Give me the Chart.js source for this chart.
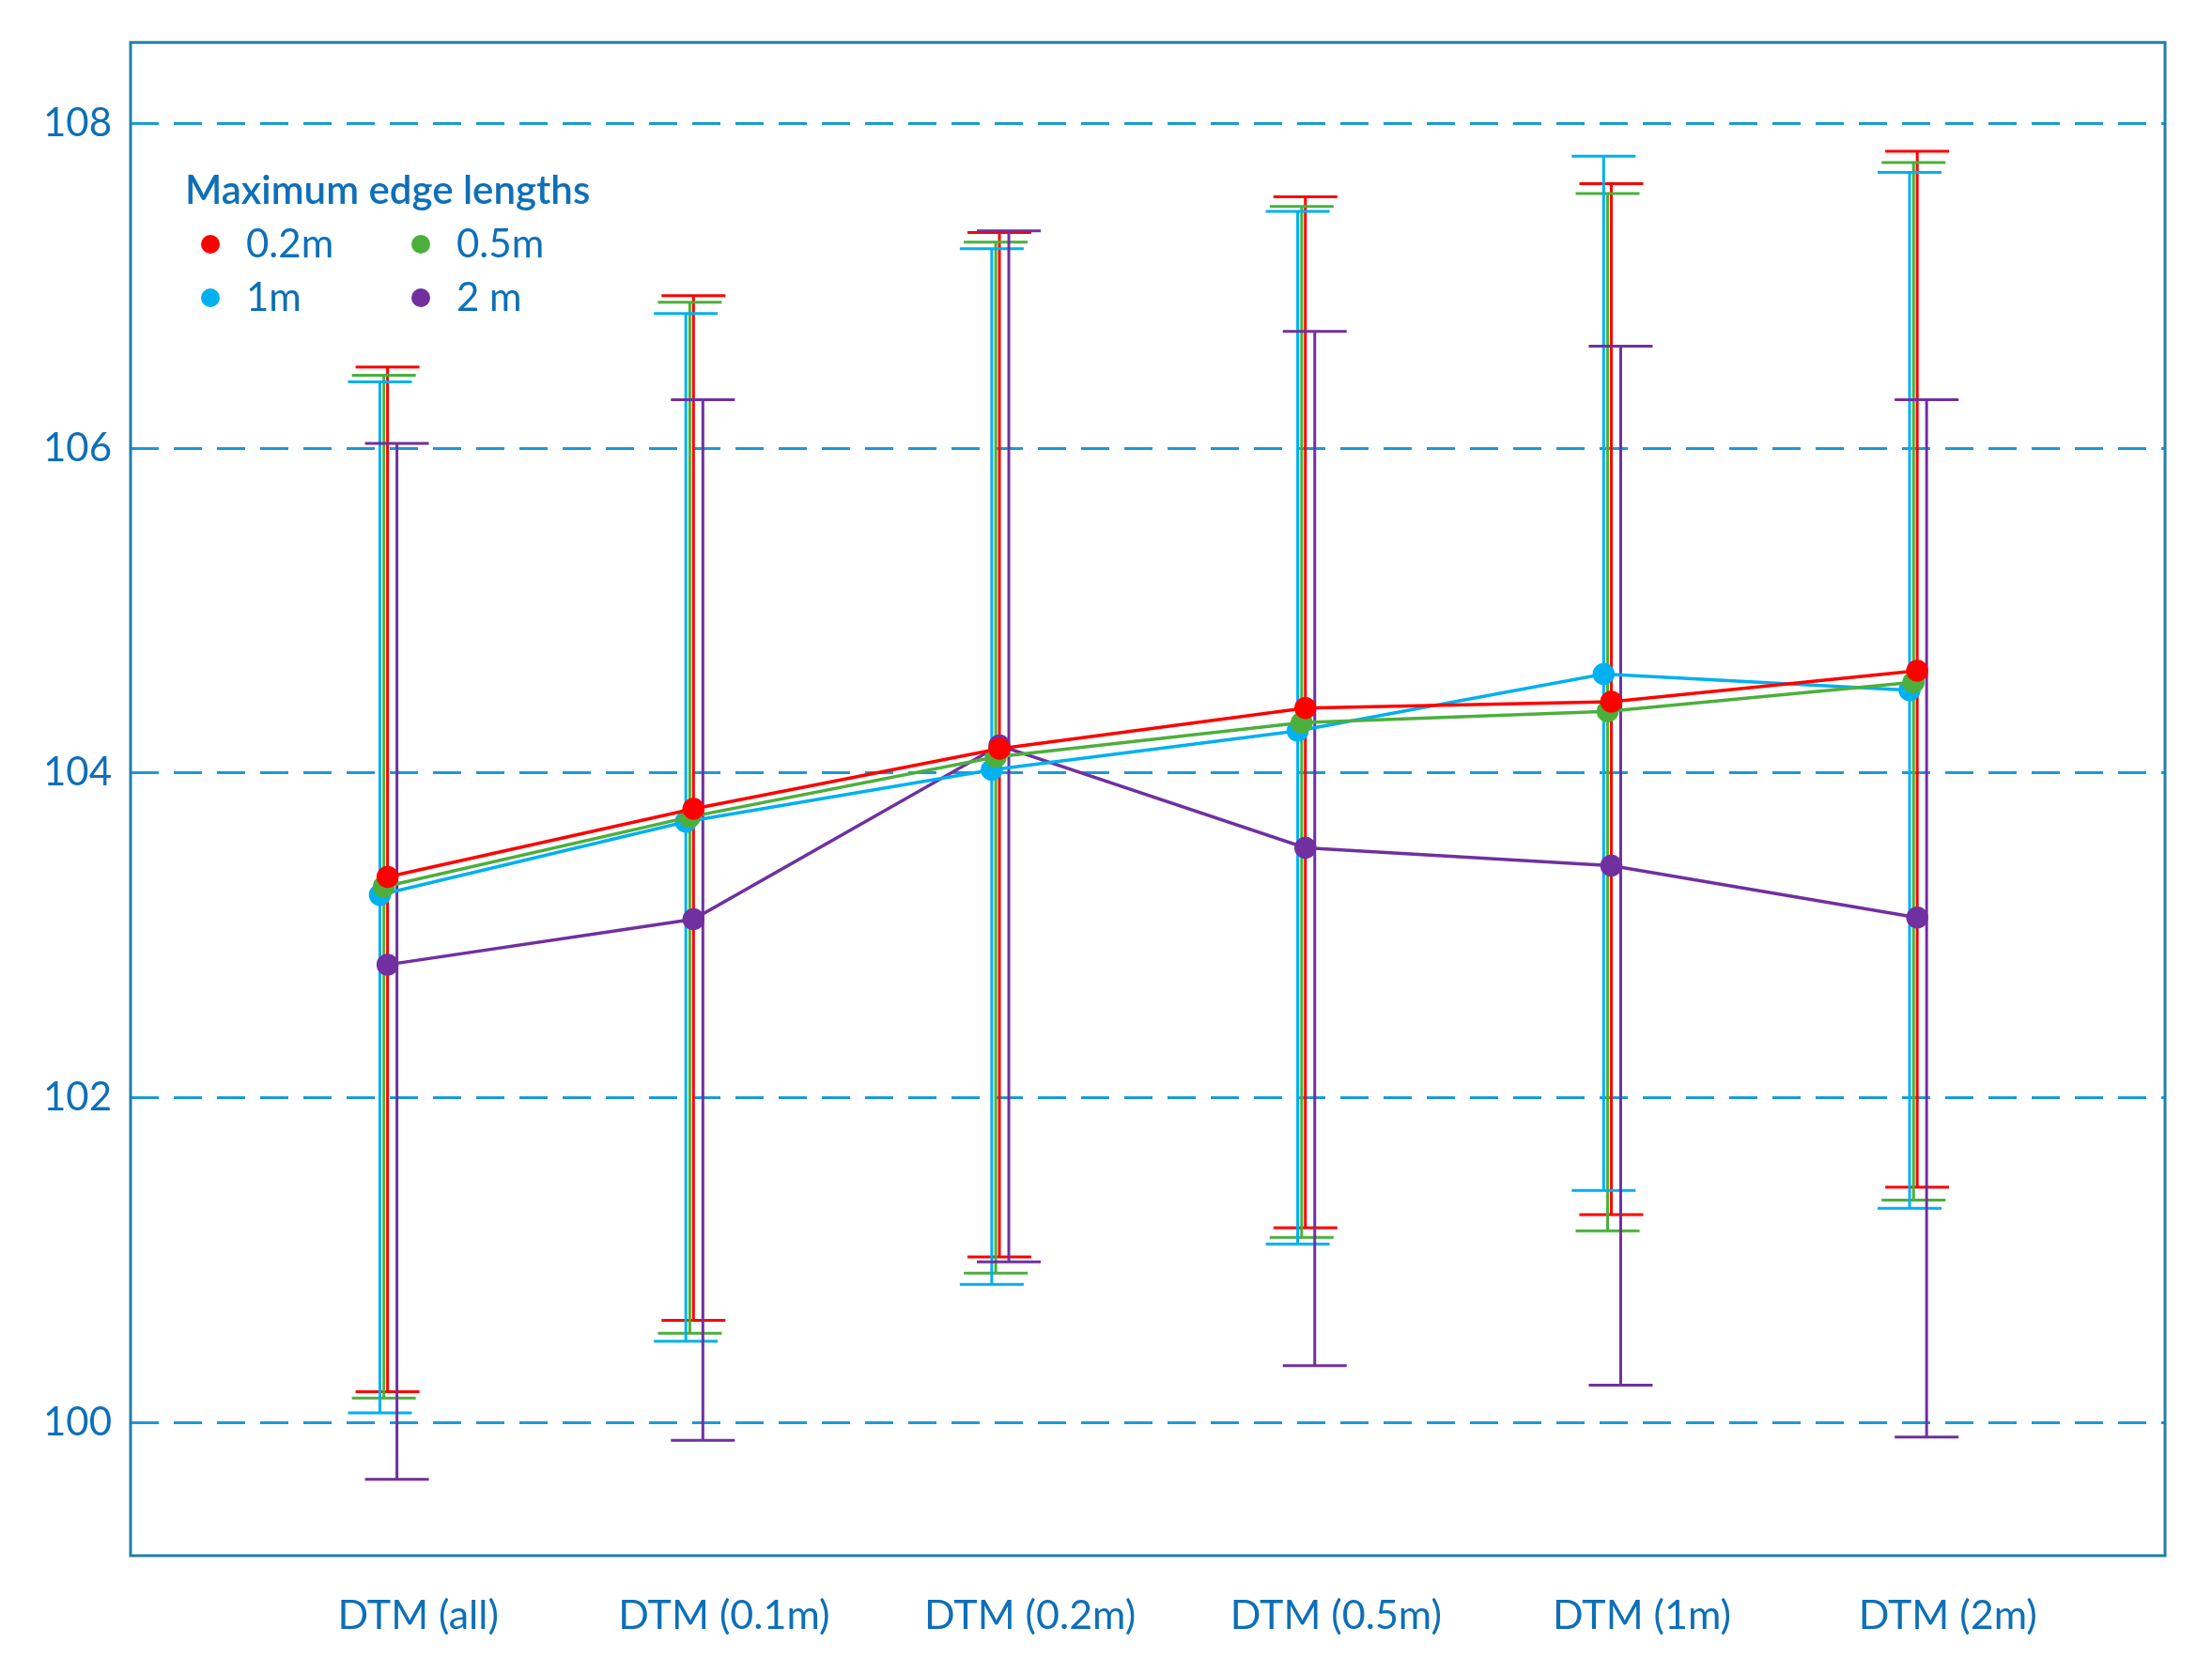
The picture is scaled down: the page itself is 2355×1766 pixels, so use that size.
<!DOCTYPE html>
<html>
<head>
<meta charset="utf-8">
<script src="https://cdn.jsdelivr.net/npm/chart.js@4"></script>
<style>
  html, body { margin: 0; padding: 0; background: #fff; }
  #wrap { width: 2355px; height: 1766px; }
</style>
</head>
<body>
<div id="wrap"><canvas id="c"></canvas></div>
<script>
// categories and values
const categories = ['DTM (all)', 'DTM (0.1m)', 'DTM (0.2m)', 'DTM (0.5m)', 'DTM (1m)', 'DTM (2m)'];
const seriesNames = ['0.2m', '0.5m', '1m', '2 m'];
const seriesColors = ['#ff0000', '#4caf3c', '#00b0f0', '#7030a0'];
const seriesShift = [0, -0.012, -0.025, 0];

const mean02 = [103.36, 103.78, 104.15, 104.40, 104.44, 104.63];
const mean05 = [103.30, 103.73, 104.10, 104.31, 104.38, 104.56];
const mean1 = [103.25, 103.70, 104.02, 104.26, 104.61, 104.51];
const mean2 = [102.82, 103.10, 104.17, 103.54, 103.43, 103.11];

const high02 = [106.50, 106.94, 107.33, 107.55, 107.63, 107.83];
const low02 = [100.19, 100.63, 101.02, 101.20, 101.28, 101.45];
const high05 = [106.45, 106.90, 107.27, 107.49, 107.57, 107.76];
const low05 = [100.15, 100.55, 100.92, 101.14, 101.18, 101.37];
const high1 = [106.41, 106.83, 107.23, 107.46, 107.80, 107.70];
const low1 = [100.06, 100.50, 100.85, 101.10, 101.43, 101.32];
const high2 = [106.03, 106.30, 107.34, 106.72, 106.63, 106.30];
const low2 = [99.65, 99.89, 100.99, 100.35, 100.23, 99.91];

const yTicks = [100, 102, 104, 106, 108];

const means = [mean02, mean05, mean1, mean2];
const highs = [high02, high05, high1, high2];
const lows = [low02, low05, low1, low2];

const axisBlue = '#0e6fb8';
const fontFamily = 'Lato, "Open Sans", sans-serif';

const datasets = seriesNames.map((name, s) => ({
  label: name,
  data: means[s].map((v, i) => ({ x: i + seriesShift[s], y: v, hi: highs[s][i], lo: lows[s][i] })),
  borderColor: seriesColors[s],
  backgroundColor: seriesColors[s],
  borderWidth: 3.5,
  pointRadius: 10,
  pointHoverRadius: 10,
  tension: 0
}));

// error bars drawn through the chart's scales
const errorBars = {
  id: 'errorBars',
  beforeDatasetsDraw(chart) {
    const { ctx, scales: { x, y } } = chart;
    ctx.save();
    ctx.lineWidth = 3;
    chart.data.datasets.forEach((ds) => {
      ctx.strokeStyle = ds.borderColor;
      ds.data.forEach(p => {
        const px = x.getPixelForValue(p.x) + (ds.label === '2 m' ? 10 : 0);
        const top = y.getPixelForValue(p.hi);
        const bot = y.getPixelForValue(p.lo);
        ctx.beginPath();
        ctx.moveTo(px, top); ctx.lineTo(px, bot);
        ctx.moveTo(px - 34, top); ctx.lineTo(px + 34, top);
        ctx.moveTo(px - 34, bot); ctx.lineTo(px + 34, bot);
        ctx.stroke();
      });
    });
    ctx.restore();
  }
};

// frame and two-column legend
const frameAndLegend = {
  id: 'frameAndLegend',
  afterDraw(chart) {
    const { ctx, chartArea: a } = chart;
    ctx.save();
    ctx.strokeStyle = '#1f7fa8';
    ctx.lineWidth = 3;
    ctx.strokeRect(a.left, a.top, a.right - a.left, a.bottom - a.top);

    ctx.fillStyle = axisBlue;
    ctx.font = '600 42px ' + fontFamily;
    ctx.textBaseline = 'middle';
    ctx.fillText('Maximum edge lengths', 197, 203);
    ctx.font = '42px ' + fontFamily;
    const cols = [224, 448];
    const rows = [260, 317];
    seriesNames.forEach((name, s) => {
      const cx = cols[s % 2], cy = rows[Math.floor(s / 2)];
      ctx.fillStyle = seriesColors[s];
      ctx.beginPath();
      ctx.arc(cx, cy, 10, 0, Math.PI * 2);
      ctx.fill();
      ctx.fillStyle = axisBlue;
      ctx.fillText(name, cx + 38, cy);
    });
    ctx.restore();
  }
};

new Chart(document.getElementById('c'), {
  type: 'line',
  data: { datasets },
  plugins: [errorBars, frameAndLegend],
  options: {
    responsive: true,
    maintainAspectRatio: false,
    animation: false,
    layout: { padding: { top: 38, right: 50, left: 0, bottom: 0 } },
    plugins: { legend: { display: false }, tooltip: { enabled: false } },
    scales: {
      x: {
        type: 'linear',
        min: -0.84,
        max: 5.81,
        grid: { display: false, drawTicks: false },
        border: { display: false },
        afterBuildTicks(scale) {
          scale.ticks = categories.map((c, i) => ({ value: i + 0.1 }));
        },
        afterFit(scale) { scale.height = 110; },
        ticks: {
          padding: 38,
          color: axisBlue,
          font: { size: 43, family: fontFamily },
          callback: (v, i) => categories[i]
        }
      },
      y: {
        min: 99.18,
        max: 108.5,
        grid: {
          color: '#1a9ad6',
          lineWidth: 3,
          drawTicks: false
        },
        border: { display: false, dash: [30, 16] },
        afterBuildTicks(scale) {
          scale.ticks = yTicks.map(v => ({ value: v }));
        },
        afterFit(scale) { scale.width = 139; },
        ticks: {
          padding: 20,
          color: axisBlue,
          font: { size: 42, family: fontFamily }
        }
      }
    }
  }
});
</script>
</body>
</html>
